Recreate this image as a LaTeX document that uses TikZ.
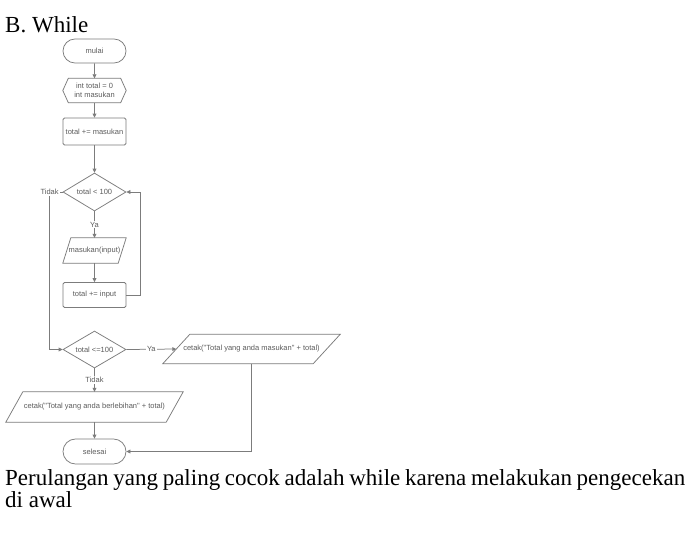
\documentclass[tikz,border=0pt]{standalone}
\usepackage{fontspec}
\setmainfont{Liberation Serif}
\newfontfamily\flowfont{Liberation Sans}
\newfontfamily\prosefont{Liberation Serif}
\usetikzlibrary{shapes.geometric,shapes.misc,arrows.meta}

\definecolor{edge}{HTML}{7C7C7C}
\definecolor{ink}{HTML}{5C5C5C}

\tikzset{
  flowtext/.style={text=ink, font=\flowfont\fontsize{7.5}{8.6}\selectfont, align=center},
  outline/.style={draw=edge, line width=0.75pt},
  term/.style={flowtext, outline, rounded rectangle, inner sep=0pt,
    minimum width=63pt, minimum height=24pt},
  proc/.style={flowtext, outline, rectangle, rounded corners=1.5pt, inner sep=0pt,
    minimum width=63pt, minimum height=26pt},
  decision/.style={flowtext, outline, diamond, shape aspect=1.66, inner sep=0pt,
    minimum width=63pt, minimum height=38pt},
  % box only: the outline of hexagons and parallelograms is drawn separately
  frame/.style={flowtext, rectangle, inner sep=0pt},
  flow/.style={draw=edge, line width=0.75pt},
  arrow/.style={flow, -{Triangle[length=4pt,width=3.8pt]}},
  lab/.style={flowtext, fill=white, inner sep=1pt},
  prose/.style={anchor=base west, inner sep=0pt, text=black,
    font=\prosefont\fontsize{23}{27}\selectfont}
}

\begin{document}
\begin{tikzpicture}[x=1pt,y=-1pt]
  \fill[white] (0,0) rectangle (688,539);
  \useasboundingbox (0,0) rectangle (688,539);

  % heading and closing remark
  \node[prose] (title) at (5,32) {B. While};
  \node[prose] (remark1) at (5,485)
    {\hbox to 680pt{\spaceskip=3pt plus 20pt minus 2pt\relax Perulangan yang paling cocok adalah while karena melakukan pengecekan}};
  \node[prose] (remark2) at (5,507) {di awal};

  % flowchart nodes
  \node[term] (start) at (94.5,51) {mulai};
  \node[frame, minimum width=63pt, minimum height=24pt] (init) at (94.5,90.5)
    {int total = 0\\int masukan};
  \node[proc, minimum height=27pt] (sum1) at (94.5,131.5) {total += masukan};
  \node[decision] (check1) at (94.5,192) {total < 100};
  \node[frame, minimum width=63pt, minimum height=25pt] (read) at (94.5,250.5) {masukan(input)};
  \node[proc, minimum height=25pt] (sum2) at (94.5,295) {total += input};
  \node[decision, minimum height=37pt] (check2) at (94.5,349.5) {total <=100};
  \node[frame, minimum width=177pt, minimum height=29pt] (outok) at (251.5,349)
    {cetak("Total yang anda masukan" + total)};
  \node[frame, minimum width=177pt, minimum height=30pt] (outover) at (94.5,407)
    {cetak("Total yang anda berlebihan" + total)};
  \node[term, minimum height=25pt] (stop) at (94.5,451.5) {selesai};

  % hexagon outline of the preparation step
  \draw[outline] (init.west) -- ([xshift=5.5pt]init.north west)
    -- ([xshift=-5.5pt]init.north east) -- (init.east)
    -- ([xshift=-5.5pt]init.south east) -- ([xshift=5.5pt]init.south west) -- cycle;
  % parallelogram outlines of input and output steps
  \draw[outline] ([xshift=8pt]read.north west) -- (read.north east)
    -- ([xshift=-8pt]read.south east) -- (read.south west) -- cycle;
  \draw[outline] ([xshift=27pt]outok.north west) -- (outok.north east)
    -- ([xshift=-27pt]outok.south east) -- (outok.south west) -- cycle;
  \draw[outline] ([xshift=17pt]outover.north west) -- (outover.north east)
    -- ([xshift=-17pt]outover.south east) -- (outover.south west) -- cycle;

  % connectors
  \draw[arrow] (start) -- (init);
  \draw[arrow] (init) -- (sum1);
  \draw[arrow] (sum1) -- (check1);
  \draw[arrow] (check1.south) -- node[lab] {Ya} (read.north);
  \draw[arrow] (read) -- (sum2);
  \draw[arrow] (sum2.east) -- ++(13.5,0) |- (check1.east);
  \draw[arrow] (check1.west) -- ++(-13,0) node[lab] {Tidak} |- (check2.west);
  \draw[arrow] (check2.east) -- node[lab] {Ya} ([xshift=13.5pt]outok.west);
  \draw[arrow] (check2.south) -- node[lab] {Tidak} (outover.north);
  \draw[arrow] (outover) -- (stop);
  \draw[arrow] (outok.south) |- (stop.east);
\end{tikzpicture}
\end{document}
